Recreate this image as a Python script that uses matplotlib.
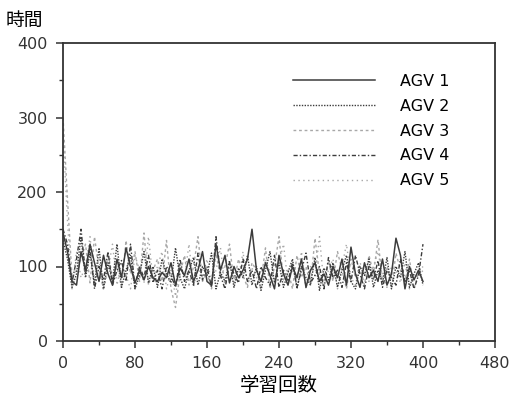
import matplotlib
matplotlib.use('Agg')
import matplotlib.pyplot as plt
import numpy as np

plt.rcParams['font.family'] = ['DejaVu Sans', 'Noto Sans CJK JP']

# episode numbers (every 5th learning run)
episodes = np.arange(0, 401, 5)

agv1 = [145, 120, 80, 75, 120, 95, 130, 105, 80, 115,
        90, 75, 110, 85, 125, 100, 78, 95, 82, 100,
        85, 80, 92, 85, 105, 75, 98, 88, 110, 80,
        95, 120, 80, 75, 130, 95, 115, 78, 100, 85,
        95, 110, 150, 95, 80, 105, 88, 70, 115, 90,
        75, 100, 85, 110, 72, 95, 105, 80, 90, 75,
        100, 85, 110, 75, 126, 90, 72, 105, 85, 95,
        80, 110, 75, 90, 138, 115, 70, 100, 82, 95,
        80]
agv2 = [135, 110, 72, 90, 140, 85, 118, 75, 125, 70,
        105, 80, 130, 72, 95, 115, 70, 88, 120, 78,
        100, 72, 110, 90, 78, 125, 85, 70, 95, 112,
        75, 100, 88, 118, 70, 92, 80, 108, 72, 98,
        85, 115, 75, 100, 68, 95, 120, 78, 105, 72,
        92, 110, 70, 100, 85, 75, 112, 68, 98, 82,
        105, 72, 95, 115, 80, 70, 100, 88, 110, 72,
        95, 78, 112, 70, 100, 85, 120, 72, 90, 105,
        75]
agv3 = [300, 190, 85, 95, 110, 130, 78, 140, 95, 70,
        118, 85, 100, 72, 135, 90, 120, 80, 145, 75,
        95, 110, 80, 135, 70, 45, 90, 115, 75, 100,
        140, 80, 92, 70, 118, 85, 100, 130, 78, 110,
        88, 72, 105, 95, 80, 125, 70, 100, 140, 82,
        95, 70, 115, 85, 100, 75, 138, 90, 72, 108,
        80, 120, 95, 70, 110, 85, 100, 75, 115, 90,
        136, 80, 100, 72, 118, 95, 80, 110, 70, 92,
        100]
agv4 = [150, 130, 78, 110, 150, 90, 125, 70, 100, 82,
        120, 75, 95, 108, 80, 130, 72, 100, 85, 115,
        78, 95, 70, 100, 88, 72, 110, 80, 95, 75,
        118, 82, 100, 72, 140, 88, 70, 105, 90, 78,
        110, 80, 95, 70, 100, 85, 75, 115, 72, 95,
        80, 105, 72, 95, 118, 78, 88, 100, 70, 112,
        85, 95, 72, 105, 80, 115, 90, 70, 100, 82,
        108, 72, 95, 85, 75, 110, 80, 95, 70, 88,
        130]
agv5 = [280, 160, 70, 120, 85, 100, 140, 80, 110, 68,
        95, 130, 75, 105, 88, 70, 115, 95, 78, 140,
        82, 100, 120, 70, 95, 60, 105, 85, 130, 72,
        100, 85, 110, 78, 95, 125, 72, 100, 88, 80,
        120, 75, 98, 85, 70, 110, 92, 80, 105, 130,
        78, 95, 85, 120, 70, 100, 88, 140, 75, 95,
        110, 70, 100, 130, 85, 75, 105, 92, 80, 100,
        120, 88, 72, 100, 95, 78, 105, 70, 90, 85,
        95]

labels = ['AGV 1', 'AGV 2', 'AGV 3', 'AGV 4', 'AGV 5']

fig = plt.figure(figsize=(5.26, 4.0), dpi=100)
ax = fig.add_axes([0.1198, 0.1475, 0.8212, 0.745])

dark = '#3c3c3c'
light = '#a8a8a8'
ax.plot(episodes, agv5, color=light, lw=1.0, linestyle=(0, (1, 2.5)), label=labels[4])
ax.plot(episodes, agv3, color=light, lw=1.0, linestyle=(0, (2, 2)), label=labels[2])
ax.plot(episodes, agv2, color=dark, lw=1.0, linestyle=(0, (1, 1)), label=labels[1])
ax.plot(episodes, agv4, color=dark, lw=1.0, linestyle=(0, (3, 1.5, 1, 1.5)), label=labels[3])
ax.plot(episodes, agv1, color=dark, lw=1.1, linestyle='-', label=labels[0])

ax.set_xlim(0, 480)
ax.set_ylim(0, 400)
ax.set_xticks(np.arange(0, 481, 80))
ax.set_xticks(np.arange(40, 481, 80), minor=True)
ax.set_yticks(np.arange(0, 401, 100))
ax.set_yticks(np.arange(50, 401, 100), minor=True)
ax.tick_params(which='major', direction='out', length=5, width=1.1, labelsize=11.5,
               pad=6, colors='#333333')
ax.tick_params(which='minor', direction='out', length=3, width=1.0, colors='#333333')
for sp in ax.spines.values():
    sp.set_linewidth(1.3)
    sp.set_color('#333333')

handles, labs = ax.get_legend_handles_labels()
order = [labels.index(l) for l in labs]
pairs = sorted(zip(order, handles, labs))
ax.legend([p[1] for p in pairs], [p[2] for p in pairs], loc='upper left',
          bbox_to_anchor=(0.5, 0.945), frameon=False, fontsize=11.5,
          handlelength=5.1, handletextpad=1.6, labelspacing=0.62)

ax.set_xlabel('学習回数', fontsize=14, family=['Noto Sans CJK JP'], labelpad=3)
fig.text(0.01, 0.95, '時間', fontsize=13.5, family=['Noto Sans CJK JP'],
         ha='left', va='center')

plt.savefig('out.png', dpi=100)
